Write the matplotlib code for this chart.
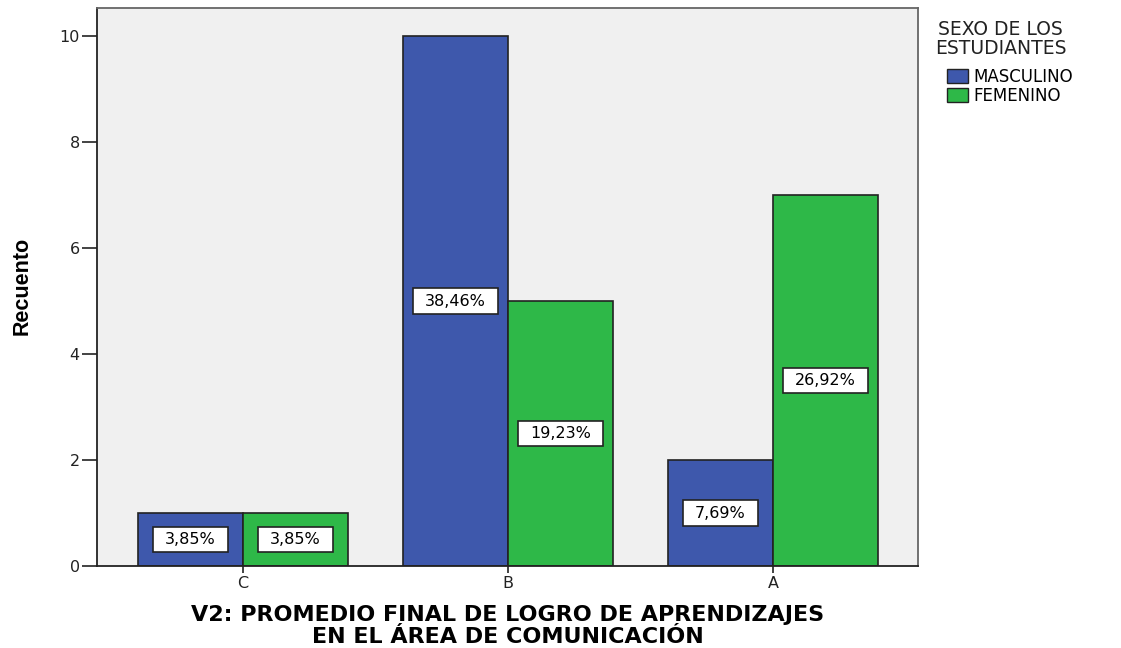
import numpy as np
import matplotlib.pyplot as plt
from matplotlib.patches import Patch
from matplotlib.path import Path

categories = ['C', 'B', 'A']
masculino = [1, 10, 2]
femenino = [1, 5, 7]
pct_masculino = ['3,85%', '38,46%', '7,69%']
pct_femenino = ['3,85%', '19,23%', '26,92%']

blue = '#3E58AC'
green = '#2EB848'
edge = '#222222'

plt.rcParams['font.family'] = ['DejaVu Sans']

W, H = 1121, 648
fig = plt.figure(figsize=(W / 100, H / 100), dpi=100)
ax = fig.add_axes([97 / W, 1 - 566 / H, (918 - 97) / W, (566 - 8) / H])
ax.set_facecolor('#F0F0F0')

x = np.arange(len(categories))
w = 0.396
b1 = ax.bar(x - w / 2, masculino, w, color=blue, edgecolor=edge, linewidth=1.2)
b2 = ax.bar(x + w / 2, femenino, w, color=green, edgecolor=edge, linewidth=1.2)


# label box wider than tall, like the SPSS value labels
def wide_box(x0, y0, width, height, mutation_size):
    px, py = 0.75 * mutation_size, 0.34 * mutation_size
    x0, y0 = x0 - px, y0 - py
    x1, y1 = x0 + width + 2 * px, y0 + height + 2 * py
    return Path([(x0, y0), (x1, y0), (x1, y1), (x0, y1), (x0, y0)], closed=True)


for bars, labels in ((b1, pct_masculino), (b2, pct_femenino)):
    for rect, lab in zip(bars, labels):
        ax.text(rect.get_x() + rect.get_width() / 2, rect.get_height() / 2, lab,
                ha='center', va='center', fontsize=11.5,
                bbox=dict(boxstyle=wide_box, facecolor='white', edgecolor=edge, linewidth=1.2))

ax.set_xlim(-0.551, 2.547)
ax.set_ylim(0, 10.53)
ax.set_yticks([0, 2, 4, 6, 8, 10])
ax.set_xticks(x)
ax.set_xticklabels(categories)
ax.tick_params(axis='y', length=10.5, width=1.2, labelsize=11.5, pad=2, colors='#222222')
ax.tick_params(axis='x', length=5, width=1.2, labelsize=11.5, pad=2, colors='#222222')
for s in ['left', 'bottom']:
    ax.spines[s].set_color('#222222')
    ax.spines[s].set_linewidth(1.3)
for s in ['top', 'right']:
    ax.spines[s].set_color('#666666')
    ax.spines[s].set_linewidth(1.3)

fig.text(508 / W, 1 - 605 / H,
         'V2: PROMEDIO FINAL DE LOGRO DE APRENDIZAJES\nEN EL ÁREA DE COMUNICACIÓN',
         ha='center', va='top', fontsize=16, fontweight='bold', linespacing=1.1,
         multialignment='center')
fig.text(22 / W, 1 - 286 / H, 'Recuento', rotation=90, ha='center', va='center',
         fontsize=15.5, fontweight='bold', family=['Liberation Sans'])

# legend title drawn as its own text, entries below it
fig.text(935 / W, 1 - 20 / H, 'SEXO DE LOS\nESTUDIANTES', ha='left', va='top',
         fontsize=13.5, linespacing=1.0, multialignment='center', color='#222222')
handles = [Patch(facecolor=blue, edgecolor=edge), Patch(facecolor=green, edgecolor=edge)]
leg = fig.legend(handles, ['MASCULINO', 'FEMENINO'],
                 loc='upper left', bbox_to_anchor=(945 / W, 1 - 66 / H),
                 frameon=False, fontsize=12,
                 handlelength=1.25, handleheight=0.88, handletextpad=0.35,
                 labelspacing=0.08, borderpad=0.1, borderaxespad=0)

fig.savefig('out.png', dpi=100)
